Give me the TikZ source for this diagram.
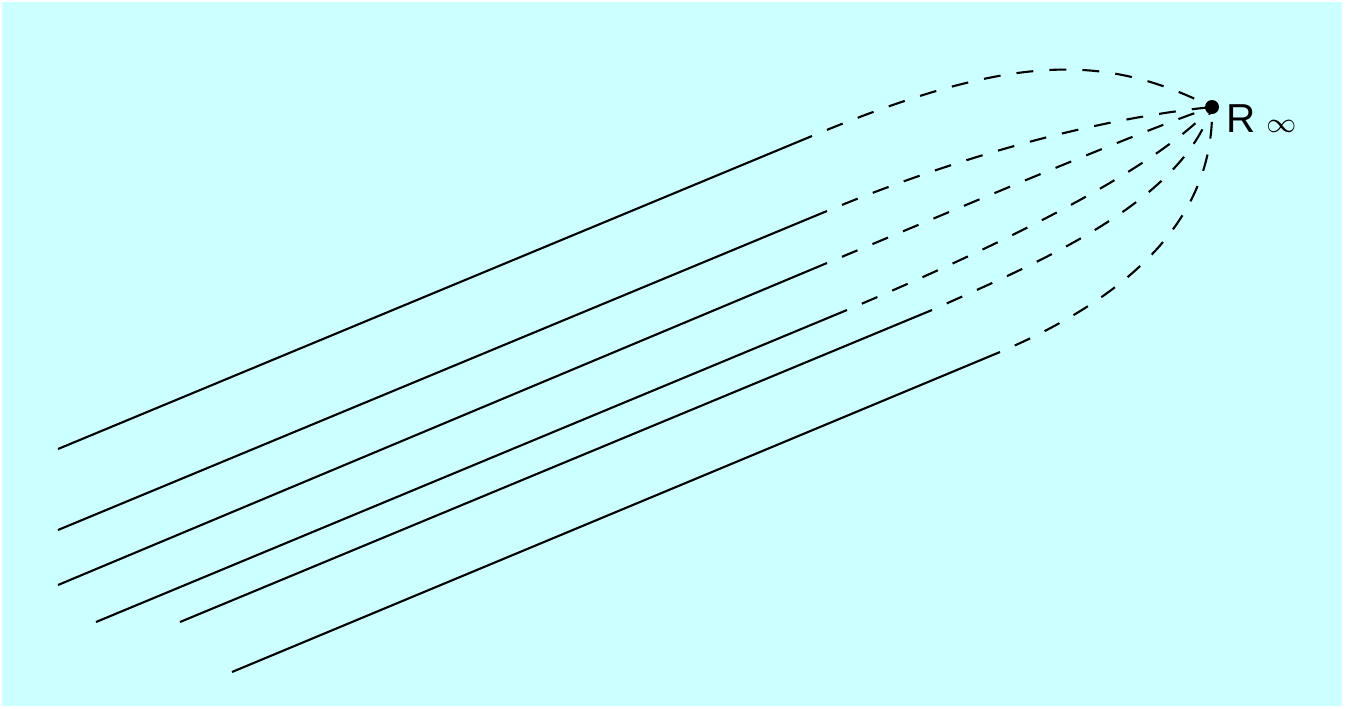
\documentclass[tikz,border=0pt]{standalone}
\usepackage{fontspec}
\setmainfont{Liberation Sans}
\usetikzlibrary{positioning,calc}
\definecolor{bgcolor}{RGB}{204,255,255}
\definecolor{raycolor}{RGB}{0,0,0}

\begin{document}
\begin{tikzpicture}[
x=0.01cm, y=-0.01cm,
ray/.style={draw=raycolor, line width=0.6pt},
dashray/.style={draw=raycolor, line width=0.6pt, dash pattern=on 4.8pt off 4.6pt, dash phase=4.8pt},
limitdot/.style={circle, fill=black, inner sep=0pt, minimum size=0.14cm}
]

\useasboundingbox (0,0) rectangle (1353,708);

% Background
\fill[bgcolor] (2,2) rectangle (1342,706);

% Limit point
\node[limitdot] (rinf) at (1212,107) {};
\node[anchor=base west, inner sep=0pt, font=\fontsize{11.5}{13}\selectfont] (rlabel) at (1226,132) {R\kern3pt{\fontsize{8.5}{9}\selectfont$\infty$}};

% Start and end points of the rays
\coordinate (s1) at (58,449);
\coordinate (e1) at (812,136);
\coordinate (s2) at (58,530);
\coordinate (e2) at (827,211);
\coordinate (s3) at (58,585);
\coordinate (e3) at (827,263);
\coordinate (s4) at (96,622);
\coordinate (e4) at (847,310);
\coordinate (s5) at (180,622);
\coordinate (e5) at (932,310);
\coordinate (s6) at (232,672);
\coordinate (e6) at (1000,352);

% Solid rays
\draw[ray] (s1) -- (e1);
\draw[ray] (s2) -- (e2);
\draw[ray] (s3) -- (e3);
\draw[ray] (s4) -- (e4);
\draw[ray] (s5) -- (e5);
\draw[ray] (s6) -- (e6);

% Dashed continuations to the limit point
\draw[dashray] (e1) .. controls (1012,53) and (1104,53) .. (rinf.center);
\draw[dashray] (e2) .. controls (977,149) and (1112,117) .. (rinf.center);
\draw[dashray] (e3) .. controls (950,212) and (1130,135) .. (rinf.center);
\draw[dashray] (e4) .. controls (977,255) and (1150,175) .. (rinf.center);
\draw[dashray] (e5) .. controls (1032,265) and (1180,205) .. (rinf.center);
\draw[dashray] (e6) .. controls (1110,305) and (1215,230) .. (rinf.center);

\end{tikzpicture}
\end{document}
